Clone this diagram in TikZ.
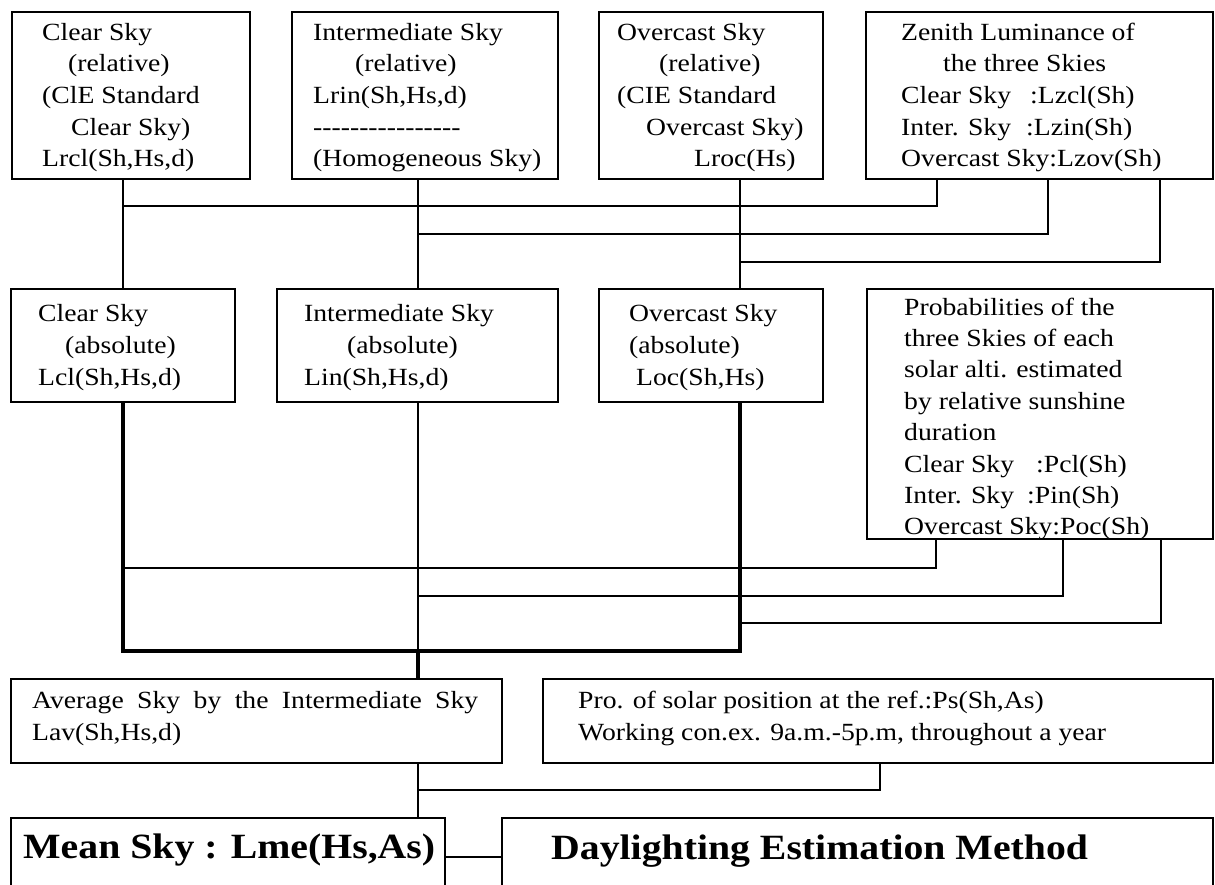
\documentclass[tikz,border=0pt]{standalone}
\usepackage{fontspec}
\setmainfont{Liberation Serif}[FakeStretch=1.12]
\begin{document}
\begin{tikzpicture}[x=1pt,y=-1pt,
  box/.style={draw, line width=2.9pt, rectangle, inner sep=0pt, outer sep=0pt, anchor=north west},
  conn/.style={line width=2.6pt},
  heavy/.style={line width=4.2pt},
  txt/.style={anchor=base west, inner sep=0pt, font=\fontsize{24.7}{28}\selectfont},
  big/.style={anchor=base west, inner sep=0pt, font=\fontsize{35.5}{40}\selectfont\bfseries}]
\path[use as bounding box, clip] (0,0) rectangle (1215,884);
\fill[white] (0,0) rectangle (1215,884);
% column / row coordinates
\coordinate (colA) at (123,0);
\coordinate (colB) at (418,0);
\coordinate (colC) at (740,0);
\coordinate (z1) at (937,0);
\coordinate (z2) at (1048,0);
\coordinate (z3) at (1160,0);
\coordinate (p1) at (936,0);
\coordinate (p2) at (1063,0);
\coordinate (p3) at (1161,0);
\coordinate (q) at (880,0);
\coordinate (h1) at (0,206);
\coordinate (h2) at (0,234);
\coordinate (h3) at (0,262);
\coordinate (h4) at (0,568);
\coordinate (h5) at (0,596);
\coordinate (h6) at (0,623);
\coordinate (h7) at (0,651);
\coordinate (h8) at (0,790);
\coordinate (h9) at (0,857);
% boxes row 1
\node[box, minimum width=238pt, minimum height=167pt] (A) at (12,12) {};
\node[box, minimum width=266pt, minimum height=167pt] (B) at (292,12) {};
\node[box, minimum width=224pt, minimum height=167pt] (C) at (599,12) {};
\node[box, minimum width=347pt, minimum height=167pt] (D) at (866,12) {};
% boxes row 2
\node[box, minimum width=224pt, minimum height=113pt] (A2) at (11,289) {};
\node[box, minimum width=281pt, minimum height=113pt] (B2) at (277,289) {};
\node[box, minimum width=224pt, minimum height=113pt] (C2) at (599,289) {};
\node[box, minimum width=346pt, minimum height=250pt] (D2) at (867,289) {};
% row 3
\node[box, minimum width=491pt, minimum height=84pt] (Avg) at (11,679) {};
\node[box, minimum width=670pt, minimum height=84pt] (Pro) at (543,679) {};
% row 4
\node[box, minimum width=434pt, minimum height=120pt] (Mean) at (11,818) {};
\node[box, minimum width=711pt, minimum height=120pt] (Day) at (502,818) {};
% texts row 1
\node[txt] (a1) at (42,40) {Clear Sky};
\node[txt] (a2) at (68,71.7) {(relative)};
\node[txt] (a3) at (42,103.4) {(ClE Standard};
\node[txt] (a4) at (71,135.1) {Clear Sky)};
\node[txt] (a5) at (42,166.8) {Lrcl(Sh,Hs,d)};
\node[txt] (b1) at (313,40) {Intermediate Sky};
\node[txt] (b2) at (355,71.7) {(relative)};
\node[txt] (b3) at (313,103.4) {Lrin(Sh,Hs,d)};
\node[txt] (b4) at (313,135.1) {-\kern0pt-\kern0pt-\kern0pt-\kern0pt-\kern0pt-\kern0pt-\kern0pt-\kern0pt-\kern0pt-\kern0pt-\kern0pt-\kern0pt-\kern0pt-\kern0pt-\kern0pt-};
\node[txt] (b5) at (313,166.8) {(Homogeneous Sky)};
\node[txt] (c1) at (617,40) {Overcast Sky};
\node[txt] (c2) at (659,71.7) {(relative)};
\node[txt] (c3) at (617,103.4) {(CIE Standard};
\node[txt] (c4) at (646,135.1) {Overcast Sky)};
\node[txt] (c5) at (694,166.8) {Lroc(Hs)};
\node[txt] (d1) at (901,40) {Zenith Luminance of};
\node[txt] (d2) at (943,71.7) {the three Skies};
\node[txt] (d3) at (901,103.4) {\makebox[129pt][l]{Clear Sky}:Lzcl(Sh)};
\node[txt] (d4) at (901,135.1) {\makebox[125pt][l]{Inter. Sky}:Lzin(Sh)};
\node[txt] (d5) at (901,166.8) {Overcast Sky:Lzov(Sh)};
% texts row 2
\node[txt] (e1) at (38,321) {Clear Sky};
\node[txt] (e2) at (65,353) {(absolute)};
\node[txt] (e3) at (38,385) {Lcl(Sh,Hs,d)};
\node[txt] (f1) at (304,321) {Intermediate Sky};
\node[txt] (f2) at (347,353) {(absolute)};
\node[txt] (f3) at (304,385) {Lin(Sh,Hs,d)};
\node[txt] (g1) at (629,321) {Overcast Sky};
\node[txt] (g2) at (629,353) {(absolute)};
\node[txt] (g3) at (636,385) {Loc(Sh,Hs)};
\node[txt] (k1) at (904,315) {Probabilities of the};
\node[txt] (k2) at (904,346.4) {three Skies of each};
\node[txt] (k3) at (904,377.8) {solar alti. estimated};
\node[txt] (k4) at (904,409.2) {by relative sunshine};
\node[txt] (k5) at (904,440.6) {duration};
\node[txt] (k6) at (904,472) {\makebox[132pt][l]{Clear Sky}:Pcl(Sh)};
\node[txt] (k7) at (904,503.4) {\makebox[123pt][l]{Inter. Sky}:Pin(Sh)};
\node[txt] (k8) at (904,534.8) {Overcast Sky:Poc(Sh)};
% texts row 3
\node[txt] (m1) at (32,708) {\makebox[446pt][s]{Average Sky by the Intermediate Sky}};
\node[txt] (m2) at (32,740) {Lav(Sh,Hs,d)};
\node[txt] (n1) at (578,708) {Pro. of solar position at the ref.:Ps(Sh,As)};
\node[txt] (n2) at (578,740) {Working con.ex. 9a.m.-5p.m, throughout a year};
% row 4 texts
\node[big] (r1) at (23,858) {Mean Sky : Lme(Hs,As)};
\node[big] (r2) at (551,859) {Daylighting Estimation Method};
% connectors upper
\draw[conn] (colA|-A.south) -- (colA|-A2.north);
\draw[conn] (colB|-B.south) -- (colB|-B2.north);
\draw[conn] (colC|-C.south) -- (colC|-C2.north);
\draw[conn] (colA|-h1) -- (z1|-h1) -- (z1|-D.south);
\draw[conn] (colB|-h2) -- (z2|-h2) -- (z2|-D.south);
\draw[conn] (colC|-h3) -- (z3|-h3) -- (z3|-D.south);
% connectors lower
\draw[heavy] (colA|-A2.south) -- (colA|-h7) -- (colC|-h7) -- (colC|-C2.south);
\draw[conn] (colB|-B2.south) -- (colB|-h7);
\draw[heavy] (colB|-h7) -- (colB|-Avg.north);
\draw[conn] (colA|-h4) -- (p1|-h4) -- (p1|-D2.south);
\draw[conn] (colB|-h5) -- (p2|-h5) -- (p2|-D2.south);
\draw[conn] (colC|-h6) -- (p3|-h6) -- (p3|-D2.south);
% bottom
\draw[conn] (colB|-Avg.south) -- (colB|-Mean.north);
\draw[conn] (colB|-h8) -- (q|-h8) -- (q|-Pro.south);
\draw[conn] (Mean.east|-h9) -- (Day.west|-h9);
\end{tikzpicture}
\end{document}
